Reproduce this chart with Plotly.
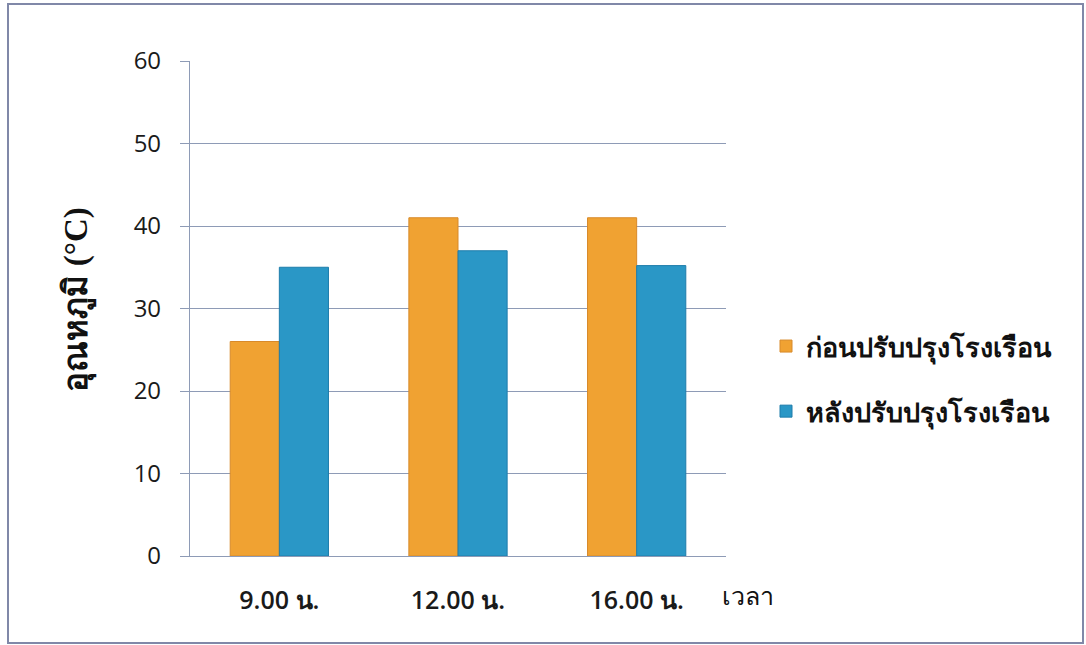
import plotly.graph_objects as go

categories = ["9.00 น.", "12.00 น.", "16.00 น."]
before_values = [26, 41, 41]
after_values = [35, 37, 35.2]
series_names = ["ก่อนปรับปรุงโรงเรือน", "หลังปรับปรุงโรงเรือน"]
y_ticks = [0, 10, 20, 30, 40, 50, 60]

W, H = 1086, 645
L, R, T, B = 190, 360, 61, 89
pw, ph = W - L - R, H - T - B

def px_x(x):
    return (x - L) / pw

def px_y(y):
    return (H - B - y) / ph

fig = go.Figure()
fig.add_trace(go.Bar(
    x=categories, y=before_values, name=series_names[0], legendgroup="a",
    marker=dict(color="#F0A232", line=dict(color="#D88A2A", width=1)),
))
fig.add_trace(go.Bar(
    x=categories, y=after_values, name=series_names[1], legendgroup="b",
    marker=dict(color="#2A97C6", line=dict(color="#1E7DAB", width=1)),
))

grid_col = "#8E9BB6"
fig.update_layout(
    width=W, height=H,
    margin=dict(l=L, r=R, t=T, b=B),
    paper_bgcolor="white", plot_bgcolor="white",
    barmode="group", bargap=0.45, bargroupgap=0,
    font=dict(family="Open Sans, Noto Sans, sans-serif", color="#1a1a1a"),
    xaxis=dict(
        showline=True, linecolor=grid_col, linewidth=1.2,
        ticks="", tickfont=dict(size=25, color="#1a1a1a", weight=600),
        ticklabelstandoff=22, showgrid=False,
    ),
    yaxis=dict(
        range=[0, 60], tickvals=y_ticks, showgrid=True, gridcolor=grid_col,
        gridwidth=1.2, showline=True, linecolor=grid_col, linewidth=1.2,
        ticks="outside", ticklen=9, tickcolor=grid_col, ticklabelstandoff=14,
        tickfont=dict(size=24, color="#1a1a1a", weight=500), zeroline=False,
    ),
    legend=dict(
        x=px_x(766), y=px_y(322), xanchor="left", yanchor="top",
        font=dict(family="Liberation Serif, serif", size=27, color="#111", weight="bold"),
        tracegroupgap=27, traceorder="grouped", itemwidth=30,
        bgcolor="rgba(0,0,0,0)",
    ),
    annotations=[
        dict(text="<b>อุณหภูมิ (°C)</b>", textangle=-90, xref="paper", yref="paper",
             x=px_x(55), y=px_y(300), showarrow=False,
             font=dict(family="Liberation Serif, serif", size=33, color="#111")),
        dict(text="เวลา", xref="paper", yref="paper",
             x=px_x(720), y=px_y(612), xanchor="left", showarrow=False,
             font=dict(family="Liberation Serif, serif", size=25, color="#111")),
    ],
    shapes=[
        dict(type="rect", xref="paper", yref="paper",
             x0=px_x(8), x1=px_x(1083), y0=px_y(643), y1=px_y(4),
             line=dict(color="#8088A8", width=2), fillcolor="rgba(0,0,0,0)", layer="below"),
    ],
)

fig.write_html("out.html")
